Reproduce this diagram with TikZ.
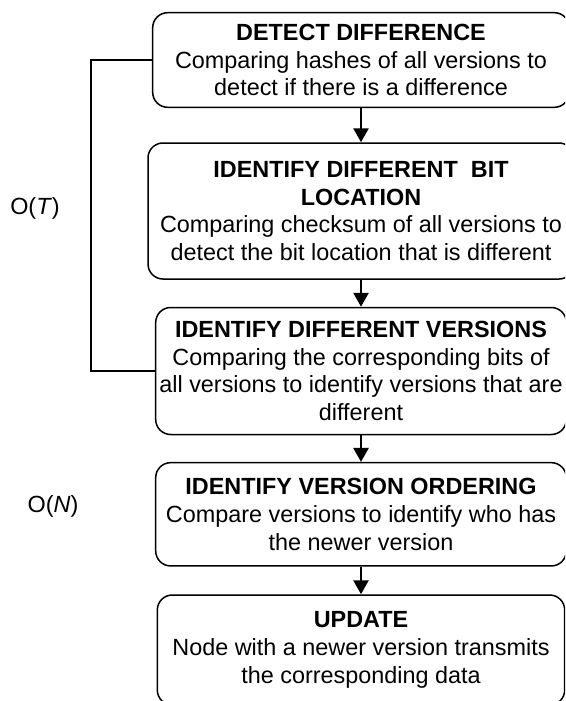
\documentclass[tikz,border=0pt]{standalone}
\usepackage{fontspec}
\setmainfont{Liberation Sans}
\usetikzlibrary{arrows.meta}
\begin{document}
\begin{tikzpicture}[x=1pt,y=-1pt,
  stepbox/.style={draw, line width=1.5pt, rounded corners=15pt, align=center, inner sep=0pt,
    font=\fontsize{23.4}{27.7}\selectfont},
  flow/.style={line width=2.7pt, -{Triangle[width=15pt,length=14pt]}},
  bracket/.style={line width=1.5pt},
  cplx/.style={font=\fontsize{23.4}{27.7}\selectfont, inner sep=0pt}]
\useasboundingbox (0,0) rectangle (565,701);
\clip (0,0) rectangle (565,701);
\node[stepbox, minimum width=416.6pt, minimum height=94.6pt] (b1) at (361,60)
  {\textbf{DETECT DIFFERENCE}\\Comparing hashes of all versions to\\detect if there is a difference};
\node[stepbox, minimum width=426pt, minimum height=136pt] (b2) at (361,211)
  {\textbf{IDENTIFY DIFFERENT~ BIT}\\\textbf{LOCATION}\\Comparing checksum of all versions to\\detect the bit location that is different};
\node[stepbox, minimum width=410.6pt, minimum height=127pt] (b3) at (361,371)
  {\textbf{IDENTIFY DIFFERENT VERSIONS}\\Comparing the corresponding bits of\\all versions to identify versions that are\\different};
\node[stepbox, minimum width=410.6pt, minimum height=103.3pt] (b4) at (361,514.3)
  {\textbf{IDENTIFY VERSION ORDERING}\\Compare versions to identify who has\\the newer version};
\node[stepbox, minimum width=407.4pt, minimum height=110pt] (b5) at (361,650)
  {\textbf{UPDATE}\\Node with a newer version transmits\\the corresponding data};
\draw[flow] (b1.south) -- (b2.north);
\draw[flow] (b2.south) -- (b3.north);
\draw[flow] (b3.south) -- (b4.north);
\draw[flow] (b4.south) -- (b5.north);
\draw[bracket] (b1.west) -- ++(-61,0) |- (b3.west);
\node[cplx] (ot) at (35,208) {O(\textit{T})};
\node[cplx] (on) at (53,506) {O(\textit{N})};
\end{tikzpicture}
\end{document}
